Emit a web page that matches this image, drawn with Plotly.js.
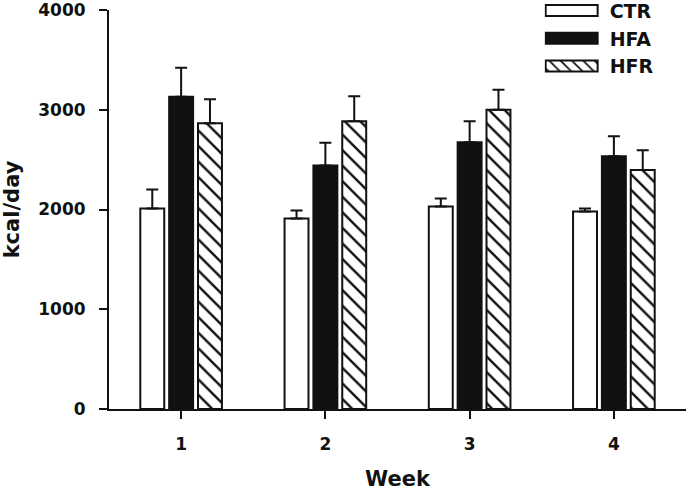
<!DOCTYPE html>
<html><head><meta charset="utf-8">
<script src="https://cdn.plot.ly/plotly-3.0.1.min.js"></script>
<style>body{margin:0;background:#fff}#chart{width:688px;height:491px}</style>
</head><body><div id="chart"></div>
<script>
const weeks = ['1', '2', '3', '4'];
const ctrMean = [2010, 1910, 2030, 1980];
const ctrErr  = [190, 80, 80, 30];
const hfaMean = [3130, 2440, 2675, 2535];
const hfaErr  = [290, 230, 210, 200];
const hfrMean = [2865, 2885, 3000, 2395];
const hfrErr  = [240, 250, 200, 200];
const yTicks = [0, 1000, 2000, 3000, 4000];

const errStyle = (arr) => ({type: 'data', array: arr, symmetric: false, arrayminus: arr.map(() => 0),
  color: '#111', thickness: 2, width: 6});

const traces = [
  {type: 'bar', name: 'CTR', legendgroup: 'a', x: weeks, y: ctrMean, error_y: errStyle(ctrErr),
   marker: {color: '#ffffff', line: {color: '#111', width: 2}}},
  {type: 'bar', name: 'HFA', legendgroup: 'b', x: weeks, y: hfaMean, error_y: errStyle(hfaErr),
   marker: {color: '#111', line: {color: '#111', width: 2}}},
  {type: 'bar', name: 'HFR', legendgroup: 'c', x: weeks, y: hfrMean, error_y: errStyle(hfrErr),
   marker: {color: '#ffffff', line: {color: '#111', width: 2},
     pattern: {shape: '\\', fgcolor: '#111', bgcolor: '#ffffff', size: 11, solidity: 0.22}}}
];

const FAM = 'DejaVu Sans, Verdana, sans-serif';
const f = (size) => ({family: FAM, size: size, color: '#111', weight: 'bold'});

const layout = {
  width: 688, height: 491,
  margin: {l: 109, r: 2, t: 9.5, b: 81.5, autoexpand: false},
  paper_bgcolor: '#fff', plot_bgcolor: '#fff',
  barmode: 'group', bargap: 0.4, bargroupgap: 0.17,
  font: f(16),
  xaxis: {
    type: 'category', showgrid: false, zeroline: false, automargin: false,
    showline: true, linecolor: '#111', linewidth: 2,
    ticks: 'outside', ticklen: 8, tickwidth: 2, tickcolor: '#111',
    tickfont: f(17), ticklabelstandoff: 11,
    title: {text: 'Week', font: f(21), standoff: 23}
  },
  yaxis: {
    range: [0, 4000], tickvals: yTicks, ticktext: yTicks.map(String), automargin: false,
    showgrid: false, zeroline: false,
    showline: true, linecolor: '#111', linewidth: 2,
    ticks: 'outside', ticklen: 8, tickwidth: 2, tickcolor: '#111',
    tickfont: f(17), ticklabelstandoff: 10, ticklabeloverflow: 'allow',
    title: {text: 'kcal/day', font: f(21), standoff: 13}
  },
  legend: {x: 0.755, y: 1.046, xanchor: 'left', yanchor: 'top', bgcolor: 'rgba(0,0,0,0)',
    font: f(19), itemwidth: 55, tracegroupgap: 0, traceorder: 'grouped'},
  showlegend: true,
  shapes: [{type: 'line', xref: 'paper', yref: 'y', x0: -0.016, x1: 0, y0: 0, y1: 0,
    line: {color: '#111', width: 2}}]
};

function widenLegend() {
  document.querySelectorAll('#chart .legend .traces').forEach(tr => {
    const txt = tr.querySelector('text.legendtext');
    tr.querySelectorAll('.legendpoints path').forEach(p => {
      const ctm = p.getScreenCTM();
      if (!ctm || !txt) return;
      const rel = txt.getBoundingClientRect().left - ctm.e;
      const r = rel - 12, l = rel - 64;
      p.setAttribute('d', `M${r},5.5H${l}V-5.5H${r}Z`);
    });
  });
}

Plotly.newPlot('chart', traces, layout, {displayModeBar: false, staticPlot: true}).then(widenLegend);
</script></body></html>
